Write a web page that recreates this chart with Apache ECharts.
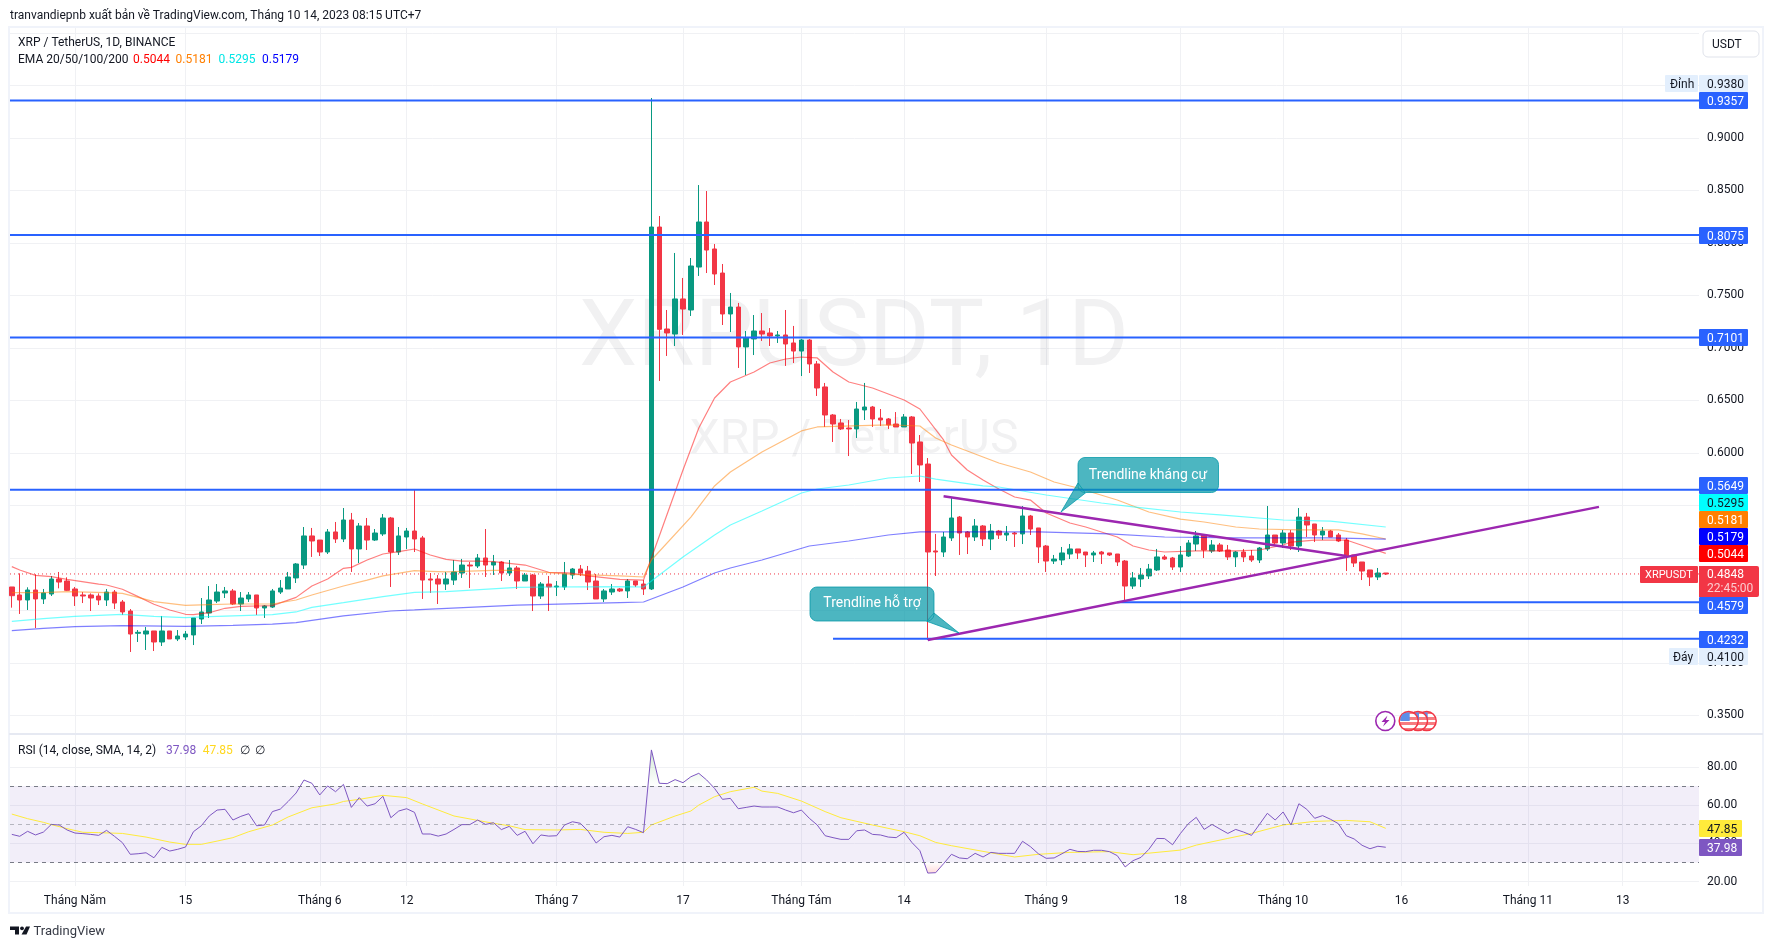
<!DOCTYPE html>
<html><head><meta charset="utf-8">
<style>html,body{margin:0;padding:0;background:#fff}#c{width:1773px;height:949px}</style>
<script src="https://cdn.jsdelivr.net/npm/echarts@6/dist/echarts.min.js"></script>
</head><body><div id="c"></div>
<script>
const firstDay = -8; // Apr 23 2023; day 0 = 1 May 2023
const opens = [.4724,.4648,.4600,.4695,.4610,.4657,.4800,.4781,.4705,.4648,
.4648,.4638,.4600,.4676,.4581,.4495,.4283,.4276,.4305,.4200,
.4305,.4229,.4248,.4267,.4419,.4476,.4590,.4667,.4686,.4562,
.4610,.4648,.4524,.4533,.4676,.4705,.4810,.4933,.5210,.5171,
.5057,.5248,.5181,.5362,.5086,.5305,.5171,.5229,.5381,.5057,
.5200,.5257,.5191,.4800,.4800,.4752,.4790,.4857,.4933,.4924,
.5000,.4933,.4962,.4857,.4905,.4781,.4838,.4638,.4752,.4724,
.4724,.4838,.4895,.4876,.4781,.4610,.4676,.4705,.4686,.4781,
.4752,.4705,.8152,.7181,.7133,.7467,.7362,.7771,.8200,.7943,
.7714,.7324,.7390,.7010,.7086,.7162,.7143,.7114,.7124,.7048,
.6971,.7076,.6848,.6629,.6362,.6286,.6238,.6229,.6410,.6438,
.6333,.6324,.6276,.6248,.6343,.6105,.5895,.5067,.5057,.5191,
.5390,.5248,.5200,.5305,.5181,.5257,.5219,.5238,.5229,.5400,
.5286,.5114,.4971,.4981,.5038,.5086,.5057,.5029,.5057,.5048,
.5038,.4971,.4733,.4800,.4829,.4886,.5010,.5000,.4914,.5019,
.5133,.5219,.5067,.5124,.5076,.5010,.5057,.5019,.4981,.5086,
.5219,.5143,.5238,.5114,.5390,.5324,.5219,.5257,.5219,.5171,
.5029,.4962,.4886,.4819,.4857];
const closes = [.4641,.4600,.4695,.4610,.4667,.4800,.4771,.4692,.4638,.4638,
.4619,.4600,.4676,.4571,.4486,.4276,.4292,.4305,.4200,.4305,
.4229,.4257,.4276,.4429,.4486,.4600,.4676,.4686,.4562,.4619,
.4648,.4524,.4543,.4686,.4714,.4819,.4943,.5210,.5162,.5057,
.5248,.5181,.5362,.5086,.5305,.5171,.5238,.5381,.5057,.5210,
.5257,.5181,.4790,.4790,.4752,.4800,.4867,.4933,.4924,.5000,
.4933,.4962,.4857,.4905,.4781,.4838,.4638,.4752,.4724,.4733,
.4848,.4895,.4857,.4771,.4610,.4686,.4705,.4686,.4781,.4743,
.4705,.8152,.7178,.7143,.7467,.7371,.7781,.8200,.7933,.7705,
.7324,.7390,.7010,.7095,.7162,.7133,.7114,.7124,.7038,.6971,
.7076,.6848,.6619,.6362,.6276,.6229,.6229,.6419,.6438,.6324,
.6314,.6267,.6248,.6343,.6095,.5886,.5057,.5057,.5200,.5381,
.5238,.5200,.5305,.5181,.5257,.5219,.5238,.5229,.5400,.5276,
.5105,.4971,.4990,.5048,.5086,.5048,.5029,.5048,.5038,.5029,
.4962,.4733,.4810,.4838,.4895,.5010,.4990,.4914,.5029,.5143,
.5210,.5076,.5124,.5067,.5010,.5057,.5010,.4981,.5095,.5219,
.5143,.5238,.5114,.5390,.5314,.5219,.5257,.5200,.5162,.5019,
.4952,.4876,.4819,.4857,.4848];
const lows = [.4527,.4467,.4505,.4333,.4562,.4638,.4711,.4686,.4543,.4571,
.4495,.4552,.4543,.4514,.4457,.4105,.4200,.4124,.4114,.4162,
.4229,.4209,.4219,.4171,.4371,.4429,.4571,.4619,.4552,.4495,
.4581,.4457,.4429,.4524,.4657,.4705,.4762,.4895,.5010,.5019,
.5038,.5143,.5152,.4867,.4952,.5076,.5162,.5210,.4724,.5029,
.5086,.5057,.4610,.4667,.4562,.4695,.4743,.4810,.4714,.4905,
.4819,.4838,.4781,.4829,.4705,.4781,.4495,.4610,.4495,.4638,
.4695,.4800,.4829,.4695,.4610,.4581,.4648,.4676,.4619,.4724,
.4648,.4695,.6686,.6924,.7019,.7124,.7305,.7686,.7714,.7600,
.7219,.7152,.6810,.6743,.6933,.7067,.7019,.7048,.6829,.6857,
.6733,.6762,.6543,.6248,.6105,.6219,.5971,.6143,.6314,.6248,
.6257,.6229,.6248,.6248,.5800,.5724,.4219,.4829,.5010,.5162,
.5029,.5038,.5162,.5114,.5076,.5181,.5162,.5105,.5133,.5219,
.4952,.4867,.4943,.4933,.4990,.4990,.4914,.4962,.4943,.5019,
.4924,.4590,.4705,.4724,.4800,.4876,.4981,.4886,.4867,.5010,
.5067,.5000,.5048,.5057,.4981,.4914,.4962,.4962,.4952,.5067,
.5124,.5095,.5076,.5057,.5200,.5152,.5171,.5200,.5152,.4876,
.4914,.4790,.4733,.4790,.4838];
const highs = [.4724,.4854,.4721,.4845,.4705,.4829,.4867,.4816,.4724,.4676,
.4663,.4663,.4705,.4695,.4600,.4514,.4314,.4343,.4305,.4448,
.4305,.4314,.4305,.4429,.4619,.4733,.4752,.4724,.4705,.4676,
.4676,.4648,.4552,.4705,.4790,.4867,.4952,.5295,.5286,.5171,
.5276,.5343,.5476,.5429,.5333,.5381,.5276,.5419,.5391,.5295,
.5286,.5648,.5210,.4857,.4838,.4867,.4981,.4991,.4962,.5038,
.5276,.5029,.4971,.4981,.4924,.4857,.4848,.4771,.4829,.4781,
.4962,.4905,.4933,.4924,.4848,.4705,.4752,.4714,.4800,.4781,
.4790,.9381,.8257,.7362,.7905,.7667,.7857,.8552,.8495,.7990,
.7800,.7524,.7429,.7162,.7314,.7333,.7190,.7162,.7362,.7210,
.7086,.7086,.6876,.6667,.6371,.6324,.6314,.6486,.6667,.6448,
.6419,.6333,.6390,.6371,.6352,.6171,.5952,.5229,.5248,.5581,
.5400,.5257,.5371,.5314,.5324,.5267,.5305,.5248,.5495,.5410,
.5286,.5124,.5029,.5105,.5133,.5086,.5057,.5067,.5067,.5048,
.5038,.4981,.4867,.4905,.4943,.5086,.5029,.5010,.5114,.5171,
.5257,.5219,.5171,.5143,.5124,.5067,.5086,.5076,.5105,.5495,
.5219,.5267,.5267,.5476,.5429,.5324,.5295,.5267,.5238,.5191,
.5029,.4962,.4886,.4905,.4857];

const ema20Days = [-8,-7,-5,-3,-1,3,4,6,8,10,12,14,15,17,19,21,23,25,28,30,32,34,35,37,39,41,43,45,47,49,51,53,55,57,60,62,63,65,69,72,77,79,81,83,86,88,90,92,94,96,98,101,105,107,110,111,113,115,117,119,121,123,126,128,132,134,136,138,142,147,150,153,154,157,161,164,166];
const ema20Values = [.4918,.4886,.4835,.4822,.4797,.4752,.4743,.4702,.4632,.4559,.4505,.4464,.4460,.4479,.4521,.4540,.4543,.4546,.4625,.4733,.4800,.4902,.4911,.4981,.5038,.5060,.5086,.5029,.4987,.4971,.4971,.4965,.4949,.4933,.4864,.4860,.4854,.4829,.4797,.4790,.5838,.6238,.6524,.6676,.6771,.6857,.6895,.6914,.6905,.6771,.6676,.6619,.6505,.6419,.6124,.5981,.5838,.5743,.5657,.5581,.5552,.5429,.5333,.5295,.5200,.5114,.5076,.5057,.5067,.5067,.5076,.5124,.5152,.5171,.5171,.5095,.5044];
const ema50Days = [-8,-4,-1,4,6,8,10,14,17,20,25,28,30,34,37,39,43,45,47,53,56,60,63,69,72,73,78,81,83,87,92,94,103,107,109,111,115,117,121,124,127,132,136,140,143,147,150,155,160,163,166];
const ema50Values = [.4670,.4670,.4679,.4670,.4663,.4625,.4584,.4549,.4556,.4562,.4562,.4600,.4648,.4733,.4790,.4829,.4879,.4873,.4867,.4883,.4883,.4860,.4844,.4829,.4819,.4981,.5390,.5686,.5819,.6010,.6210,.6248,.6267,.6257,.6143,.6076,.5962,.5905,.5819,.5724,.5667,.5552,.5438,.5371,.5343,.5295,.5276,.5267,.5267,.5229,.5181];
const ema100Days = [-8,-4,0,6,10,14,17,25,28,30,34,39,43,47,56,60,69,72,77,81,83,87,92,94,98,103,107,109,115,117,123,130,134,140,145,153,159,166];
const ema100Values = [.4397,.4422,.4444,.4464,.4444,.4432,.4441,.4460,.4486,.4530,.4575,.4632,.4673,.4679,.4721,.4724,.4727,.4724,.5010,.5219,.5314,.5448,.5619,.5657,.5695,.5762,.5781,.5752,.5686,.5676,.5600,.5524,.5486,.5438,.5410,.5362,.5352,.5295];
const ema200Days = [-8,-4,0,6,14,20,25,28,34,40,43,56,69,72,77,81,83,87,93,98,103,107,122,131,138,147,159,166];
const ema200Values = [.4308,.4330,.4346,.4355,.4349,.4359,.4371,.4384,.4448,.4495,.4505,.4552,.4575,.4581,.4724,.4857,.4905,.4981,.5114,.5162,.5219,.5248,.5248,.5229,.5200,.5191,.5191,.5179];

const rsiValues = [44.7,43.7,46.3,44.4,45.9,49.9,49.6,47.0,45.4,45.1,
44.7,44.2,46.8,43.7,40.4,34.3,34.6,35.1,32.5,37.9,
36.0,36.9,38.1,46.1,49.2,54.3,57.4,57.8,52.2,54.1,
55.5,49.2,49.6,56.6,57.9,61.9,66.3,73.1,71.4,65.3,
70.0,67.0,70.8,58.8,63.9,59.5,60.7,64.6,53.4,56.9,
58.1,56.2,44.9,44.9,43.8,44.9,47.3,49.8,49.8,52.2,
49.9,50.8,47.2,48.9,44.2,46.3,39.8,44.4,43.8,44.0,
49.6,51.3,50.5,46.3,40.2,43.5,44.2,43.3,48.7,47.3,
45.6,88.8,71.4,71.2,73.3,71.7,74.8,76.6,73.1,68.7,
63.0,63.5,58.1,58.8,59.5,59.0,59.0,59.0,57.4,56.0,
57.4,53.1,49.6,44.0,43.0,42.1,42.1,46.6,47.0,44.7,
44.4,43.3,43.0,45.8,40.4,36.2,24.5,24.7,29.4,34.3,
32.4,32.0,34.8,32.9,35.3,34.8,34.8,34.8,41.1,38.3,
34.6,32.2,32.4,34.6,36.9,35.8,35.7,36.4,36.4,35.7,
33.6,27.7,31.0,32.7,36.9,42.6,42.5,39.3,45.2,50.3,
53.6,47.3,49.9,47.5,45.2,47.3,45.9,44.2,49.9,55.7,
52.2,56.4,49.6,60.7,57.8,53.1,54.5,52.6,50.3,44.0,
42.3,39.0,37.2,38.5,37.98];
const rsiMaDays = [-8,-6,-4,-3,-1,1,3,6,9,12,14,16,18,20,22,25,27,30,33,34,36,39,42,44,48,51,53,55,57,61,64,67,70,72,73,76,78,79,81,83,86,87,89,92,95,97,101,105,107,109,111,116,119,122,126,131,134,140,142,146,149,153,157,161,164,166];
const rsiMaValues = [55.3,52.9,51.0,49.8,47.7,45.8,45.6,45.2,43.3,40.7,39.5,39.5,41.2,43.0,46.1,49.6,53.8,58.6,60.6,61.9,63.0,65.1,63.9,60.6,54.3,52.0,50.5,49.2,47.2,47.0,47.3,45.8,45.2,45.8,49.6,54.3,56.9,60.0,64.4,67.0,69.3,67.3,66.1,62.1,56.6,53.4,49.6,46.1,44.0,40.5,38.8,35.1,32.9,34.3,35.3,35.7,34.1,36.5,39.1,42.6,45.2,49.6,51.5,52.0,51.3,47.85];

const levelPrices = [.9357,.8075,.7101,.5649,.4579,.4232];
const levelStartDays = [null,null,null,null,132,96];
const lastPrice = .4848;
const supportDays = [108,193], supportPrices = [.4219,.5487];
const resistanceDays = [110,161], resistancePrices = [.5588,.5019];

const xTickDays = [0,14,31,42,61,77,92,105,123,140,153,168,184,196];
const xTickLabels = ['Tháng Năm','15','Tháng 6','12','Tháng 7','17','Tháng Tám','14','Tháng 9','18','Tháng 10','16','Tháng 11','13'];
const priceTicks = [.35,.40,.45,.50,.55,.60,.65,.70,.75,.80,.85,.90,.95,1.00];
const rsiTicks = [20,40,60,80];

// layout (not data)
const FONT = 'Roboto, sans-serif', INK = '#131722', UP = '#089981', DOWN = '#F23645', BLUE = '#2962FF', PURPLE = '#9C27B0';
const dayMin = -8.23, dayMax = 205.67;
const days = opens.map((_, i) => firstDay + i);
const zip = (a, b) => a.map((v, i) => [v, b[i]]);
const g = [];
const txt = (x, y, text, fill, size, align) => g.push({type:'text', x, y:y+1, z:20, silent:true,
  style:{text, fill, font:(size||12)+'px '+FONT, textAlign:align||'left', textVerticalAlign:'middle'}});
const tag = (x, y, w, h, bg, text, fg, r, tx, size) => {
  g.push({type:'rect', z:18, silent:true, shape:{x, y, width:w, height:h, r:r||1}, style:{fill:bg}});
  txt(tx==null ? x+8 : tx, y+h/2, text, fg, size);
};
function callout(x0, y0, x1, y1, tail, text, tx, ty) {
  const r = 7, pts = [];
  const arc = (cx, cy, a0) => { for (let k = 0; k <= 6; k++) { const a = a0 + k*Math.PI/12; pts.push([cx+r*Math.cos(a), cy+r*Math.sin(a)]); } };
  arc(x1-r, y0+r, -Math.PI/2);
  arc(x1-r, y1-r, 0);
  tail.forEach(p => pts.push(p));
  arc(x0+r, y1-r, Math.PI/2);
  arc(x0+r, y0+r, Math.PI);
  g.push({type:'polygon', z:16, silent:true, shape:{points:pts}, style:{fill:'rgba(0,151,167,.7)', stroke:'rgba(0,151,167,.75)', lineWidth:1}});
  txt(tx, ty, text, '#fff', 14, 'center');
}

// frame & separators
g.push({type:'rect', z:1, silent:true, shape:{x:9,y:27,width:1754,height:886}, style:{fill:'none',stroke:'#F0F3FA',lineWidth:2}});
g.push({type:'rect', z:1, silent:true, shape:{x:9,y:733,width:1754,height:2}, style:{fill:'#E6E9F2'}});
// watermark
g.push({type:'text', x:854, y:342, z:1, silent:true, style:{text:'XRPUSDT, 1D', fill:'rgba(19,23,34,.06)', font:'93px '+FONT, textAlign:'center', textVerticalAlign:'middle'}});
g.push({type:'text', x:854, y:441, z:1, silent:true, style:{text:'XRP / TetherUS', fill:'rgba(19,23,34,.06)', font:'48px '+FONT, textAlign:'center', textVerticalAlign:'middle'}});
// header texts
txt(10, 15, 'tranvandiepnb xuất bản về TradingView.com, Tháng 10 14, 2023 08:15 UTC+7', INK, 12);
txt(18, 42, 'XRP / TetherUS, 1D, BINANCE', INK, 12);
txt(18, 59, 'EMA 20/50/100/200', INK, 12);
txt(133, 59, '0.5044', '#FF0000', 12);
txt(175.5, 59, '0.5181', '#FF7F00', 12);
txt(218.6, 59, '0.5295', '#00E5E5', 12);
txt(262, 59, '0.5179', '#0000FF', 12);
txt(18, 750, 'RSI (14, close, SMA, 14, 2)', INK, 12);
txt(166, 750, '37.98', '#7E57C2', 12);
txt(202.7, 750, '47.85', '#FFD81F', 12);
txt(240, 750, '∅', INK, 12);
txt(255, 750, '∅', INK, 12);
// USDT button
g.push({type:'rect', z:18, silent:true, shape:{x:1703,y:31,width:56,height:26,r:5}, style:{fill:'#fff',stroke:'#E0E3EB',lineWidth:1}});
txt(1712, 44, 'USDT', INK, 12);
// price tags (stacked as in the platform's axis)
tag(1665,75,33,17,'#E3EFFD','Đỉnh',INK,1,1670);
tag(1699,75,49,17,'#E3EFFD','0.9380',INK);
tag(1699,92,49,17,BLUE,'0.9357','#fff');
tag(1699,227,49,17,BLUE,'0.8075','#fff');
tag(1699,329,49,17,BLUE,'0.7101','#fff');
tag(1699,477,49,17,BLUE,'0.5649','#fff');
tag(1699,494,49,17,'#00FFFF','0.5295',INK);
tag(1699,511,49,17,'#FF7F00','0.5181','#fff');
tag(1699,528,49,17,'#0000FF','0.5179','#fff');
tag(1699,545,49,17,'#FF0000','0.5044','#fff');
tag(1640,566,58,17,DOWN,'XRPUSDT','#fff',1,1645,11);
g.push({type:'rect', z:18, silent:true, shape:{x:1699,y:566,width:60,height:31,r:[0,2,2,0]}, style:{fill:DOWN}});
txt(1707, 574, '0.4848', '#fff');
txt(1707, 588, '22:45:00', 'rgba(255,255,255,.75)');
tag(1699,597,49,17,BLUE,'0.4579','#fff');
tag(1699,631,49,17,BLUE,'0.4232','#fff');
tag(1669,648,29,17,'#E3EFFD','Đáy',INK,1,1673);
tag(1699,648,49,17,'#E3EFFD','0.4100',INK);
tag(1699,820,43,17,'#FFEB3B','47.85',INK);
tag(1699,839,43,17,'#7E57C2','37.98','#fff');
// callouts
callout(1078,457.5,1218.5,492.5,[[1086,492.5],[1061,512],[1078,483]],'Trendline kháng cự',1148,474);
callout(810,587,934,621,[[934,613],[959,633],[926,621]],'Trendline hỗ trợ',872,602.5);
// event icons
[1426.7,1418,1408.7].forEach(cx => {
  const stops = []; for (let k = 0; k < 7; k++) { const c = k%2 ? '#fff' : '#F77C80'; stops.push({offset:k/7,color:c},{offset:(k+1)/7,color:c}); }
  g.push({type:'circle', z:14, silent:true, shape:{cx,cy:721,r:9.5}, style:{fill:{type:'linear',x:0,y:0,x2:0,y2:1,colorStops:stops}, stroke:'#F23645', lineWidth:1.5}});
  g.push({type:'polygon', z:14, silent:true, shape:{points:[[cx-8,717],[cx-6,714],[cx-2,712.5],[cx+1,712.5],[cx+1,721],[cx-8.5,721]]}, style:{fill:'#5D8FE8'}});
});
g.push({type:'circle', z:14, silent:true, shape:{cx:1385.3,cy:721,r:9.5}, style:{fill:'#fff',stroke:PURPLE,lineWidth:1.6}});
g.push({type:'polygon', z:14, silent:true, shape:{points:[[1387.5,715.5],[1381.5,722],[1385,722],[1383,726.5],[1389.5,720],[1385.8,720]]}, style:{fill:PURPLE}});
// TradingView logo
g.push({type:'polygon', z:20, silent:true, shape:{points:[[10,926.5],[19,926.5],[19,934.5],[15,934.5],[15,930],[10,930]]}, style:{fill:INK}});
g.push({type:'circle', z:20, silent:true, shape:{cx:22,cy:928.3,r:1.9}, style:{fill:INK}});
g.push({type:'polygon', z:20, silent:true, shape:{points:[[26,926.5],[30,926.5],[26.5,934.5],[21.5,934.5]]}, style:{fill:INK}});
txt(33.5, 931, 'TradingView', '#363A45', 13);

const lineSeries = (name, data, color, width, opts) => Object.assign({
  name, type:'line', xAxisIndex:0, yAxisIndex:0, data, showSymbol:false, symbol:'none', silent:true, animation:false,
  lineStyle:{color, width, opacity:1}, z:4
}, opts||{});

// RSI zones above 70 / below 30, split at the crossings of the RSI line
function zone(level, above) {
  const out = [];
  for (let i = 0; i < rsiValues.length; i++) {
    const v = rsiValues[i], d = days[i], ins = above ? v > level : v < level;
    if (i > 0) {
      const pv = rsiValues[i-1], pins = above ? pv > level : pv < level;
      if (ins !== pins) { out.push([days[i-1] + (level-pv)/(v-pv), level]); if (!ins) out.push([d, null]); }
    }
    if (ins) out.push([d, v]);
  }
  return out;
}

const option = {
  animation:false, backgroundColor:'#fff', textStyle:{fontFamily:FONT},
  graphic:{elements:g},
  grid:[{left:10,top:27,width:1689,height:707},{left:10,top:735,width:1689,height:151}],
  xAxis:[0,1].map(i => ({
    type:'value', gridIndex:i, min:dayMin, max:dayMax, position:'bottom',
    axisLine:{show:false},
    axisTick:{show:false, customValues:xTickDays},
    splitLine:{show:true, lineStyle:{color:'#F0F1F4',width:1}},
    axisLabel:{show:i===1, customValues:xTickDays, color:INK, fontFamily:FONT, fontSize:12, margin:9, hideOverlap:false,
      showMinLabel:true, showMaxLabel:true,
      formatter:v => xTickLabels[xTickDays.indexOf(v)] ?? ''}
  })),
  yAxis:[
    {type:'value', gridIndex:0, position:'right', min:.33238, max:1.00571,
     axisLine:{show:false}, axisTick:{show:false, customValues:priceTicks},
     splitLine:{show:true, lineStyle:{color:'#F0F1F4',width:1}},
     axisLabel:{customValues:priceTicks, color:INK, fontFamily:FONT, fontSize:12, margin:8, padding:[2,0,0,0], formatter:v => v >= 1 ? '' : v.toFixed(4)}},
    {type:'value', gridIndex:1, position:'right', min:17.75, max:96.6,
     axisLine:{show:false}, axisTick:{show:false, customValues:rsiTicks},
     splitLine:{show:true, lineStyle:{color:'#F0F1F4',width:1}},
     axisLabel:{customValues:rsiTicks, color:INK, fontFamily:FONT, fontSize:12, margin:8, padding:[2,0,0,0], formatter:v => v.toFixed(2)}}
  ],
  series:[
    {name:'XRPUSDT', type:'candlestick', xAxisIndex:0, yAxisIndex:0, barWidth:5, z:3, silent:true,
     data:days.map((d,i)=>[d,opens[i],closes[i],lows[i],highs[i]]),
     encode:{x:0,y:[1,2,3,4]},
     itemStyle:{color:UP,color0:DOWN,borderColor:UP,borderColor0:DOWN,borderWidth:1}},
    lineSeries('EMA 20', zip(ema20Days,ema20Values), 'rgba(255,0,0,.5)', 1.2),
    lineSeries('EMA 50', zip(ema50Days,ema50Values), 'rgba(255,127,0,.5)', 1.2),
    lineSeries('EMA 100', zip(ema100Days,ema100Values), 'rgba(0,255,255,.55)', 1.2),
    lineSeries('EMA 200', zip(ema200Days,ema200Values), 'rgba(0,0,255,.5)', 1.2),
    lineSeries('Giá', [[dayMin,lastPrice],[dayMax,lastPrice]], DOWN, 1, {lineStyle:{color:DOWN,width:1,type:[1,3]}}),
    ...levelPrices.map((p,i)=>lineSeries('Mức '+p, [[levelStartDays[i]==null?dayMin:levelStartDays[i],p],[dayMax,p]], BLUE, 2, {z:5})),
    lineSeries('Trendline hỗ trợ', zip(supportDays,supportPrices), PURPLE, 2.5, {z:6}),
    lineSeries('Trendline kháng cự', zip(resistanceDays,resistancePrices), PURPLE, 2.5, {z:6}),
    {name:'RSI', type:'line', xAxisIndex:1, yAxisIndex:1, data:zip(days,rsiValues), showSymbol:false, symbol:'none', silent:true, z:4,
     lineStyle:{color:'#7E57C2',width:1},
     markArea:{silent:true, itemStyle:{color:'rgba(126,87,194,.1)'}, data:[[{yAxis:70},{yAxis:30}]]},
     markLine:{silent:true, symbol:'none', label:{show:false}, animation:false, data:[
       {yAxis:70, lineStyle:{color:'#787B86',type:[4,4],width:1}},
       {yAxis:50, lineStyle:{color:'rgba(120,123,134,.5)',type:[4,4],width:1}},
       {yAxis:30, lineStyle:{color:'#787B86',type:[4,4],width:1}}]}},
    {name:'RSI MA', type:'line', xAxisIndex:1, yAxisIndex:1, data:zip(rsiMaDays,rsiMaValues), showSymbol:false, symbol:'none', silent:true, z:3,
     lineStyle:{color:'#FFEB3B',width:1}},
    {name:'RSI>70', type:'line', xAxisIndex:1, yAxisIndex:1, data:zone(70,true), showSymbol:false, symbol:'none', silent:true, z:2, connectNulls:false,
     lineStyle:{width:0}, areaStyle:{origin:70, color:{type:'linear',x:0,y:0,x2:0,y2:1,colorStops:[{offset:0,color:'rgba(76,175,80,.35)'},{offset:1,color:'rgba(76,175,80,0)'}]}}},
    {name:'RSI<30', type:'line', xAxisIndex:1, yAxisIndex:1, data:zone(30,false), showSymbol:false, symbol:'none', silent:true, z:2, connectNulls:false,
     lineStyle:{width:0}, areaStyle:{origin:30, color:{type:'linear',x:0,y:0,x2:0,y2:1,colorStops:[{offset:0,color:'rgba(255,82,82,0)'},{offset:1,color:'rgba(255,82,82,.3)'}]}}}
  ]
};
echarts.init(document.getElementById('c'), null, {renderer:'canvas'}).setOption(option);
</script></body></html>
